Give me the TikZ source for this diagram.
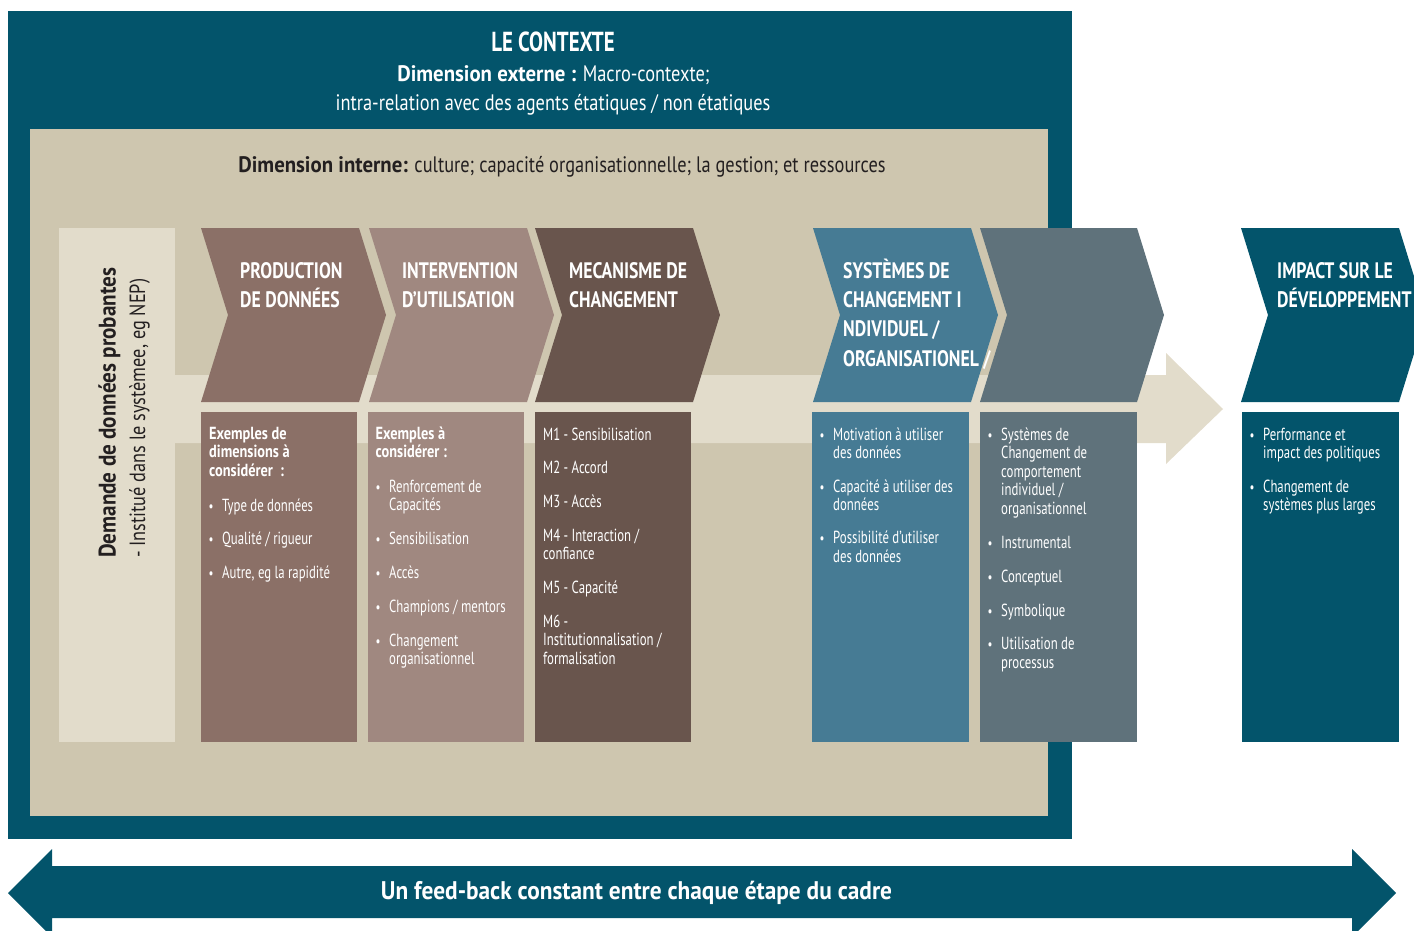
\documentclass[tikz,border=0pt]{standalone}
\usepackage{fontspec}
\setmainfont{PT Sans}[FakeStretch=0.73]
\newfontfamily\fsB{PT Sans}[FakeStretch=0.82]
\newfontfamily\fsC{PT Sans}[FakeStretch=0.79]
\newfontfamily\fsT{PT Sans}[FakeStretch=0.76]
\newfontfamily\fsH{PT Sans}[FakeStretch=0.93]
\newfontfamily\fsF{PT Sans}[FakeStretch=0.915]
\newfontfamily\vfont{PT Sans}[FakeStretch=0.88]
\newfontfamily\vfontr{PT Sans}[FakeStretch=0.83]
\definecolor{cteal}{HTML}{03546B}
\definecolor{cbeige}{HTML}{CEC6AF}
\definecolor{clight}{HTML}{E2DCCB}
\definecolor{cone}{HTML}{8B7067}
\definecolor{ctwo}{HTML}{A08880}
\definecolor{cthree}{HTML}{69554D}
\definecolor{cfour}{HTML}{467B94}
\definecolor{cfive}{HTML}{5F727B}
\definecolor{cdark}{HTML}{231F20}
\newcommand\chevshape[3]{\fill[#3] (#1,228) -- (#2,228) -- (#2+27,315) -- (#2,402) -- (#1,402) -- (#1+27,315) -- cycle;}
\tikzset{
  txt/.style={inner sep=0pt, text=white},
  ttl/.style={txt, anchor=base, font=\fsT\bfseries\fontsize{27.5}{30}\selectfont},
  sub/.style={txt, anchor=base, font=\fsB\fontsize{22.4}{26}\selectfont},
  chl/.style={txt, anchor=base west, font=\fsC\bfseries\fontsize{22.4}{26}\selectfont},
  bt/.style={txt, anchor=base west, font=\fontsize{17.5}{20}\selectfont},
  bh/.style={txt, anchor=base west, font=\fsB\bfseries\fontsize{17.5}{20}\selectfont},
  bu/.style={txt, anchor=base, font=\fontsize{15}{16}\selectfont},
  vt/.style={inner sep=0pt, text=cdark, anchor=base west, rotate=90},
}
\begin{document}
\begin{tikzpicture}[x=1pt,y=-1pt]
\useasboundingbox (0,0) rectangle (1414,930);
\clip (0,0) rectangle (1414,930);
% context frames
\fill[cteal] (8,11) rectangle (1072,839);
\fill[cbeige] (30,129) rectangle (1048,816);
\fill[clight] (59,228) rectangle (175,742);
% large band arrow
\fill[clight] (175,375) -- (1166,375) -- (1166,353) -- (1223,409) -- (1166,464) -- (1166,443) -- (175,443) -- cycle;
% chevrons
\chevshape{201}{359}{cone}
\chevshape{369}{527}{ctwo}
\chevshape{535}{693}{cthree}
\chevshape{813}{971}{cfour}
\chevshape{980}{1137}{cfive}
\chevshape{1241}{1399}{cteal}
% lower boxes
\fill[cone] (201,412) rectangle (357,742);
\fill[ctwo] (368,412) rectangle (524,742);
\fill[cthree] (535,412) rectangle (691,742);
\fill[cfour] (812,412) rectangle (969,742);
\fill[cfive] (980,412) rectangle (1137,742);
\fill[cteal] (1242,412) rectangle (1399,742);
% feedback double arrow
\fill[cteal] (8,893) -- (52,849) -- (52,866) -- (1352,866) -- (1352,849) -- (1396,893) -- (1352,937) -- (1352,918) -- (52,918) -- (52,937) -- cycle;

% header texts
\node[ttl] (t1) at (553,51.5) {LE CONTEXTE};
\node[sub] (t2) at (553.5,81) {{\fsH\bfseries Dimension externe :} Macro-contexte;};
\node[sub] (t3) at (553,110) {intra-relation avec des agents étatiques / non étatiques};
\node[sub, text=cdark] (t4) at (562,172.3) {{\fsH\bfseries Dimension interne:} culture; capacité organisationnelle; la gestion; et ressources};

% vertical texts
\node[vt, font=\vfont\bfseries\fontsize{24}{26}\selectfont] (v1) at (115.5,558) {Demande de données probantes};
\node[vt, font=\vfontr\fontsize{22}{26}\selectfont] (v2) at (145,558) {- Institué dans le systèmee, eg NEP)};

% chevron labels
\node[chl] (c1a) at (240,278) {PRODUCTION};
\node[chl] (c1b) at (240,307) {DE DONNÉES};
\node[chl] (c2a) at (402,278) {INTERVENTION};
\node[chl] (c2b) at (402,307) {D’UTILISATION};
\node[chl] (c3a) at (569,278) {MECANISME DE};
\node[chl] (c3b) at (569,307) {CHANGEMENT};
\node[chl] (c4a) at (843,278) {SYSTÈMES DE};
\node[chl] (c4b) at (843,307) {CHANGEMENT I};
\node[chl] (c4c) at (843,336.5) {NDIVIDUEL /};
\node[chl] (c4d) at (843,366) {ORGANISATIONEL /};
\node[chl] (c6a) at (1277,278) {IMPACT SUR LE};
\node[chl] (c6b) at (1277,307) {DÉVELOPPEMENT};

% box 1
\node[bh] (b1h1) at (209,439.3) {Exemples de};
\node[bh] (b1h2) at (209,457.5) {dimensions à};
\node[bh] (b1h3) at (209,476) {considérer\ \ :};
\node[bu] (b1u1) at (211,511) {•};
\node[bt] (b1i1) at (222,511) {Type de données};
\node[bu] (b1u2) at (211,544.5) {•};
\node[bt] (b1i2) at (222,544.5) {Qualité / rigueur};
\node[bu] (b1u3) at (211,578) {•};
\node[bt] (b1i3) at (222,578) {Autre, eg la rapidité};

% box 2
\node[bh] (b2h1) at (375.5,439.3) {Exemples à};
\node[bh] (b2h2) at (375.5,457.5) {considérer :};
\node[bu] (b2u1) at (378,492) {•};
\node[bt] (b2i1) at (389,492) {Renforcement de};
\node[bt] (b2i1b) at (389,510.5) {Capacités};
\node[bu] (b2u2) at (378,544.5) {•};
\node[bt] (b2i2) at (389,544.5) {Sensibilisation};
\node[bu] (b2u3) at (378,578) {•};
\node[bt] (b2i3) at (389,578) {Accès};
\node[bu] (b2u4) at (378,612) {•};
\node[bt] (b2i4) at (389,612) {Champions / mentors};
\node[bu] (b2u5) at (378,646) {•};
\node[bt] (b2i5) at (389,646) {Changement};
\node[bt] (b2i5b) at (389,664.5) {organisationnel};

% box 3
\node[bt] (b3a) at (543,440) {M1 - Sensibilisation};
\node[bt] (b3b) at (543,473) {M2 - Accord};
\node[bt] (b3c) at (543,507) {M3 - Accès};
\node[bt] (b3d) at (543,541) {M4 - Interaction /};
\node[bt] (b3d2) at (543,559.5) {confiance};
\node[bt] (b3e) at (543,593) {M5 - Capacité};
\node[bt] (b3f) at (543,627) {M6 -};
\node[bt] (b3f2) at (543,645.5) {Institutionnalisation /};
\node[bt] (b3f3) at (543,664) {formalisation};

% box 4
\node[bu] (b4u1) at (822,440) {•};
\node[bt] (b4i1) at (833,440) {Motivation à utiliser};
\node[bt] (b4i1b) at (833,458.5) {des données};
\node[bu] (b4u2) at (822,492) {•};
\node[bt] (b4i2) at (833,492) {Capacité à utiliser des};
\node[bt] (b4i2b) at (833,510.5) {données};
\node[bu] (b4u3) at (822,543.5) {•};
\node[bt] (b4i3) at (833,543.5) {Possibilité d’utiliser};
\node[bt] (b4i3b) at (833,562) {des données};

% box 5
\node[bu] (b5u1) at (990,440) {•};
\node[bt] (b5i1) at (1001,440) {Systèmes de};
\node[bt] (b5i1b) at (1001,458.5) {Changement de};
\node[bt] (b5i1c) at (1001,477) {comportement};
\node[bt] (b5i1d) at (1001,495.5) {individuel /};
\node[bt] (b5i1e) at (1001,514) {organisationnel};
\node[bu] (b5u2) at (990,548) {•};
\node[bt] (b5i2) at (1001,548) {Instrumental};
\node[bu] (b5u3) at (990,582) {•};
\node[bt] (b5i3) at (1001,582) {Conceptuel};
\node[bu] (b5u4) at (990,616) {•};
\node[bt] (b5i4) at (1001,616) {Symbolique};
\node[bu] (b5u5) at (990,649.5) {•};
\node[bt] (b5i5) at (1001,649.5) {Utilisation de};
\node[bt] (b5i5b) at (1001,668) {processus};

% box 6
\node[bu] (b6u1) at (1252,440) {•};
\node[bt] (b6i1) at (1263,440) {Performance et};
\node[bt] (b6i1b) at (1263,458.5) {impact des politiques};
\node[bu] (b6u2) at (1252,492) {•};
\node[bt] (b6i2) at (1263,492) {Changement de};
\node[bt] (b6i2b) at (1263,510.5) {systèmes plus larges};

% feedback text
\node[txt, anchor=base, font=\fsF\bfseries\fontsize{25.5}{28}\selectfont] (fb) at (636.5,899) {Un feed-back constant entre chaque étape du cadre};
\end{tikzpicture}
\end{document}
